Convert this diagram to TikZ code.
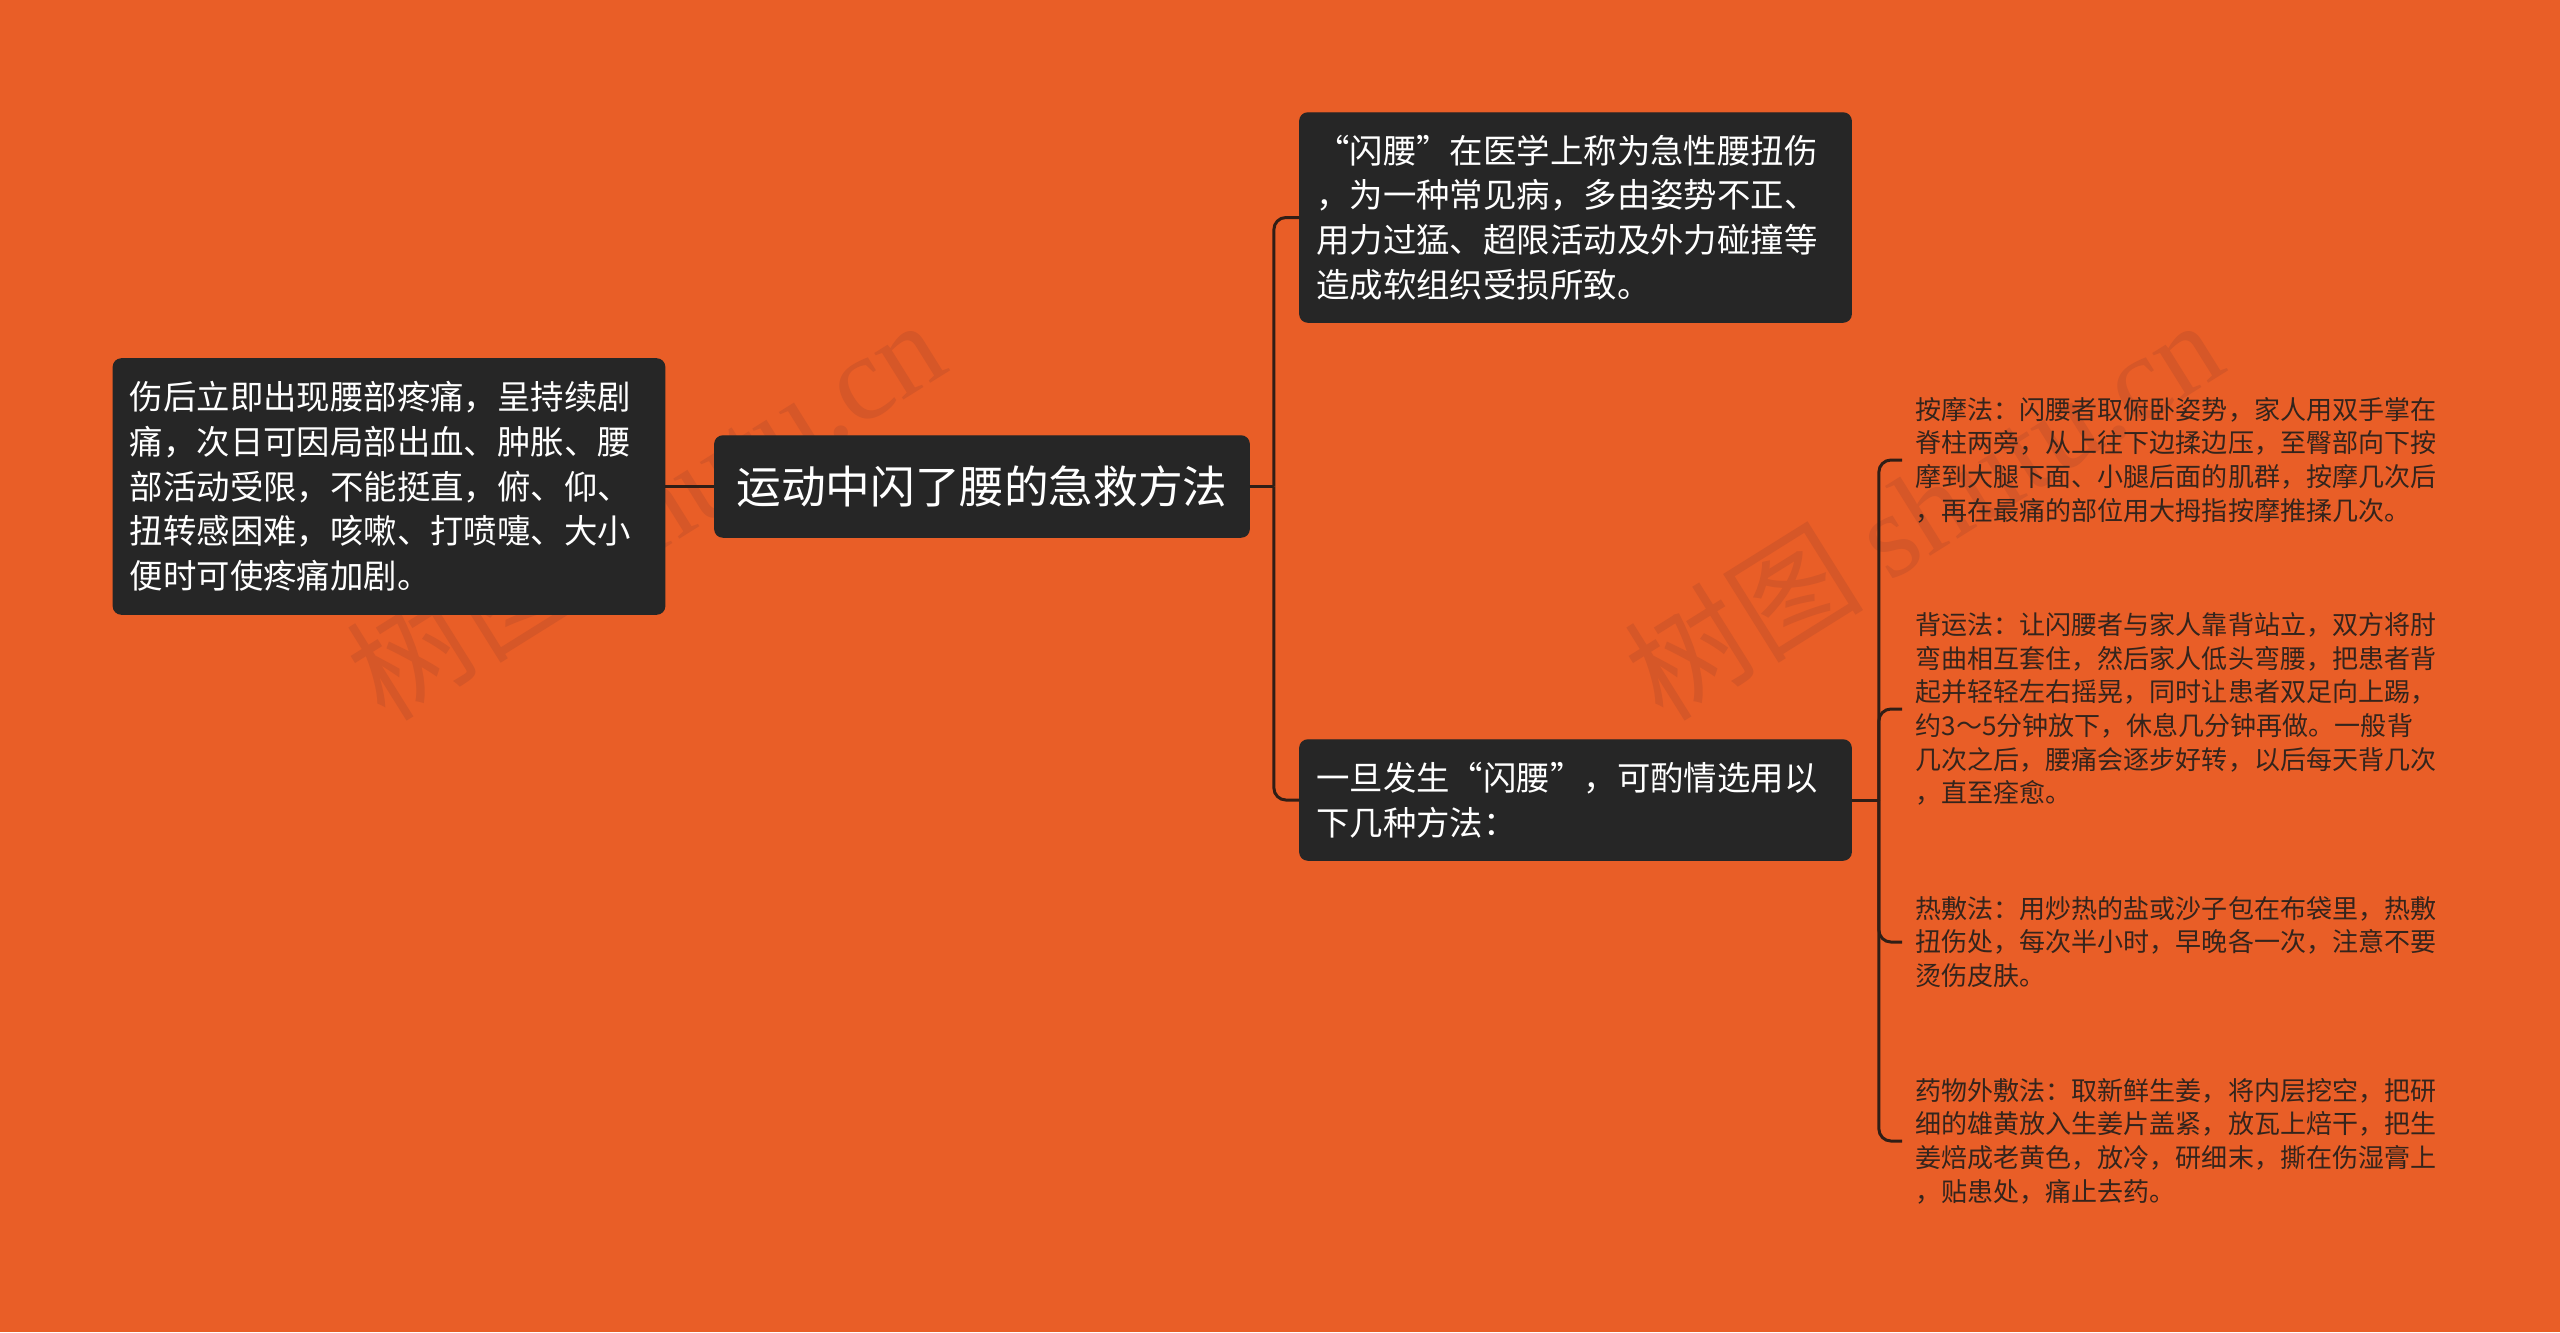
\documentclass[tikz,border=0pt]{standalone}
\usepackage{fontspec}
\setmainfont{Noto Sans CJK SC}
\newfontfamily\wmfont{Liberation Serif}
\usetikzlibrary{positioning}
\definecolor{bgorange}{RGB}{233,94,39}
\definecolor{boxdark}{RGB}{38,38,38}
\definecolor{linkbrown}{RGB}{48,30,22}
\definecolor{leaftext}{RGB}{52,36,28}
\definecolor{wmark}{RGB}{214,87,40}

\begin{document}
\begin{tikzpicture}[x=0.01cm, y=-0.01cm,
  topic/.style={fill=boxdark, draw=boxdark, rounded corners=0.08cm, text=white,
    inner xsep=0.165cm, inner ysep=0pt, align=left},
  maintopic/.style={topic, minimum width=5.34cm, minimum height=1.01cm, align=center,
    font=\fontsize{12.7pt}{15pt}\selectfont},
  subtopic/.style={topic, text width=5.18cm, font=\fontsize{9.5pt}{12.7pt}\selectfont},
  leaf/.style={anchor=west, inner xsep=0.13cm, inner ysep=0pt, text width=5.5cm,
    align=left, text=leaftext, font=\fontsize{7.4pt}{9.56pt}\selectfont},
  link/.style={draw=linkbrown, line width=0.85pt, rounded corners=0.12cm},
  watermark/.style={text=wmark, rotate=32, font=\fontsize{34pt}{36pt}\selectfont}]
  % Background
  \useasboundingbox (0,0) rectangle (2560,1332);
  \fill[bgorange] (0,0) rectangle (2560,1332);
  % Watermarks
  \node[watermark] (wmleft) at (645,508) {树图 {\wmfont shutu.cn}};
  \node[watermark] (wmright) at (1923,508) {树图 {\wmfont shutu.cn}};
  % Root
  \node[maintopic] (root) at (982,486.5) {运动中闪了腰的急救方法};
  % Symptoms (left)
  \node[subtopic, minimum height=2.55cm] (injury) at (389,486.5)
    {伤后立即出现腰部疼痛，呈持续剧\\痛，次日可因局部出血、肿胀、腰\\部活动受限，不能挺直，俯、仰、\\扭转感困难，咳嗽、打喷嚏、大小\\便时可使疼痛加剧。};
  % Right branches
  \node[subtopic, minimum height=2.09cm] (define) at (1575.5,217.5)
    {“闪腰”在医学上称为急性腰扭伤\\，为一种常见病，多由姿势不正、\\用力过猛、超限活动及外力碰撞等\\造成软组织受损所致。};
  \node[subtopic, minimum height=1.2cm] (methods) at (1575.5,800)
    {一旦发生“闪腰”，可酌情选用以\\下几种方法：};
  % Methods
  \node[leaf] (massage) at (1902,460)
    {按摩法：闪腰者取俯卧姿势，家人用双手掌在\\脊柱两旁，从上往下边揉边压，至臀部向下按\\摩到大腿下面、小腿后面的肌群，按摩几次后\\，再在最痛的部位用大拇指按摩推揉几次。};
  \node[leaf] (carry) at (1902,709)
    {背运法：让闪腰者与家人靠背站立，双方将肘\\弯曲相互套住，然后家人低头弯腰，把患者背\\起并轻轻左右摇晃，同时让患者双足向上踢，\\约3～5分钟放下，休息几分钟再做。一般背\\几次之后，腰痛会逐步好转，以后每天背几次\\，直至痊愈。};
  \node[leaf] (heat) at (1902,942)
    {热敷法：用炒热的盐或沙子包在布袋里，热敷\\扭伤处，每次半小时，早晚各一次，注意不要\\烫伤皮肤。};
  \node[leaf] (ginger) at (1902,1141)
    {药物外敷法：取新鲜生姜，将内层挖空，把研\\细的雄黄放入生姜片盖紧，放瓦上焙干，把生\\姜焙成老黄色，放冷，研细末，撕在伤湿膏上\\，贴患处，痛止去药。};
  % Connectors
  \draw[link] (injury.east) -- (root.west);
  \coordinate (rootfork) at ([xshift=0.24cm]root.east);
  \draw[link] (root.east) -- (rootfork);
  \draw[link] (rootfork) |- (define.west);
  \draw[link] (rootfork) |- (methods.west);
  \coordinate (methodfork) at ([xshift=0.27cm]methods.east);
  \draw[link] (methods.east) -- (methodfork);
  \foreach \leafname in {massage,carry,heat,ginger}
    \draw[link] (methodfork) |- (\leafname.west);
\end{tikzpicture}
\end{document}
